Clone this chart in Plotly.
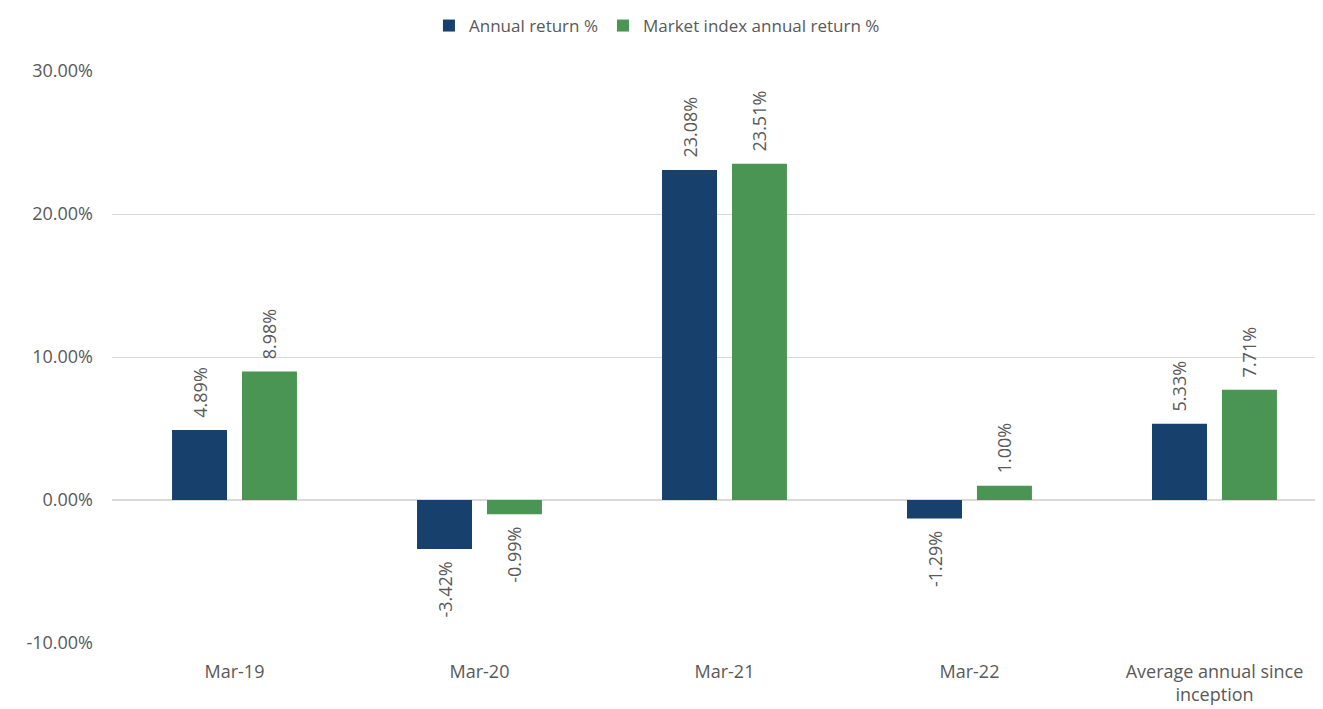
import plotly.graph_objects as go

categories = ["Mar-19", "Mar-20", "Mar-21", "Mar-22", "Average annual since<br>inception"]
annual_return = [4.89, -3.42, 23.08, -1.29, 5.33]
market_return = [8.98, -0.99, 23.51, 1.00, 7.71]
series_names = ["Annual return %", "Market index annual return %"]
colors = ["#17406d", "#4a9553"]
y_ticks = [-0.10, 0.0, 0.10, 0.20, 0.30]
y_tick_labels = ["-10.00%", "0.00%", "10.00%", "20.00%", "30.00%"]

FONT = "Open Sans"
GREY = "#595959"
PAD = "\u00a0\u00a0"


def label(v):
    s = f"{v:.2f}%"
    return PAD + s if v >= 0 else s + PAD


fig = go.Figure()
for name, vals, col in zip(series_names, [annual_return, market_return], colors):
    fig.add_trace(go.Bar(
        x=categories, y=[v / 100 for v in vals], name=name,
        marker=dict(color=col, line=dict(width=0)),
        text=[label(v) for v in vals], textposition="outside",
        textangle=-90, textfont=dict(family=FONT, size=18, color=GREY),
        constraintext="none", cliponaxis=False,
    ))

fig.update_layout(
    width=1315, height=701,
    margin=dict(l=104, r=0, t=63, b=66, autoexpand=False),
    paper_bgcolor="white", plot_bgcolor="white",
    barmode="group", bargap=0.429, bargroupgap=0.214,
    font=dict(family=FONT, size=18, color=GREY),
    legend=dict(orientation="h", x=0.4935, xanchor="center", xref="container",
                y=1.0, yanchor="top", yref="container",
                font=dict(family=FONT, size=17, color=GREY),
                itemwidth=30, traceorder="normal"),
    showlegend=True,
)
fig.update_xaxes(range=[-0.5, 4.443], showgrid=False, showline=False, ticks="",
                 ticklabelstandoff=16,
                 tickfont=dict(family=FONT, size=18, color=GREY))
fig.update_yaxes(range=[-0.10, 0.30], tickvals=y_ticks, ticktext=y_tick_labels,
                 gridcolor="#d9d9d9", gridwidth=1, zeroline=True, zerolinecolor="#d9d9d9",
                 zerolinewidth=1.5, showline=False, ticks="",
                 ticklabelstandoff=18,
                 tickfont=dict(family=FONT, size=18, color=GREY))

fig.write_html("out.html")
